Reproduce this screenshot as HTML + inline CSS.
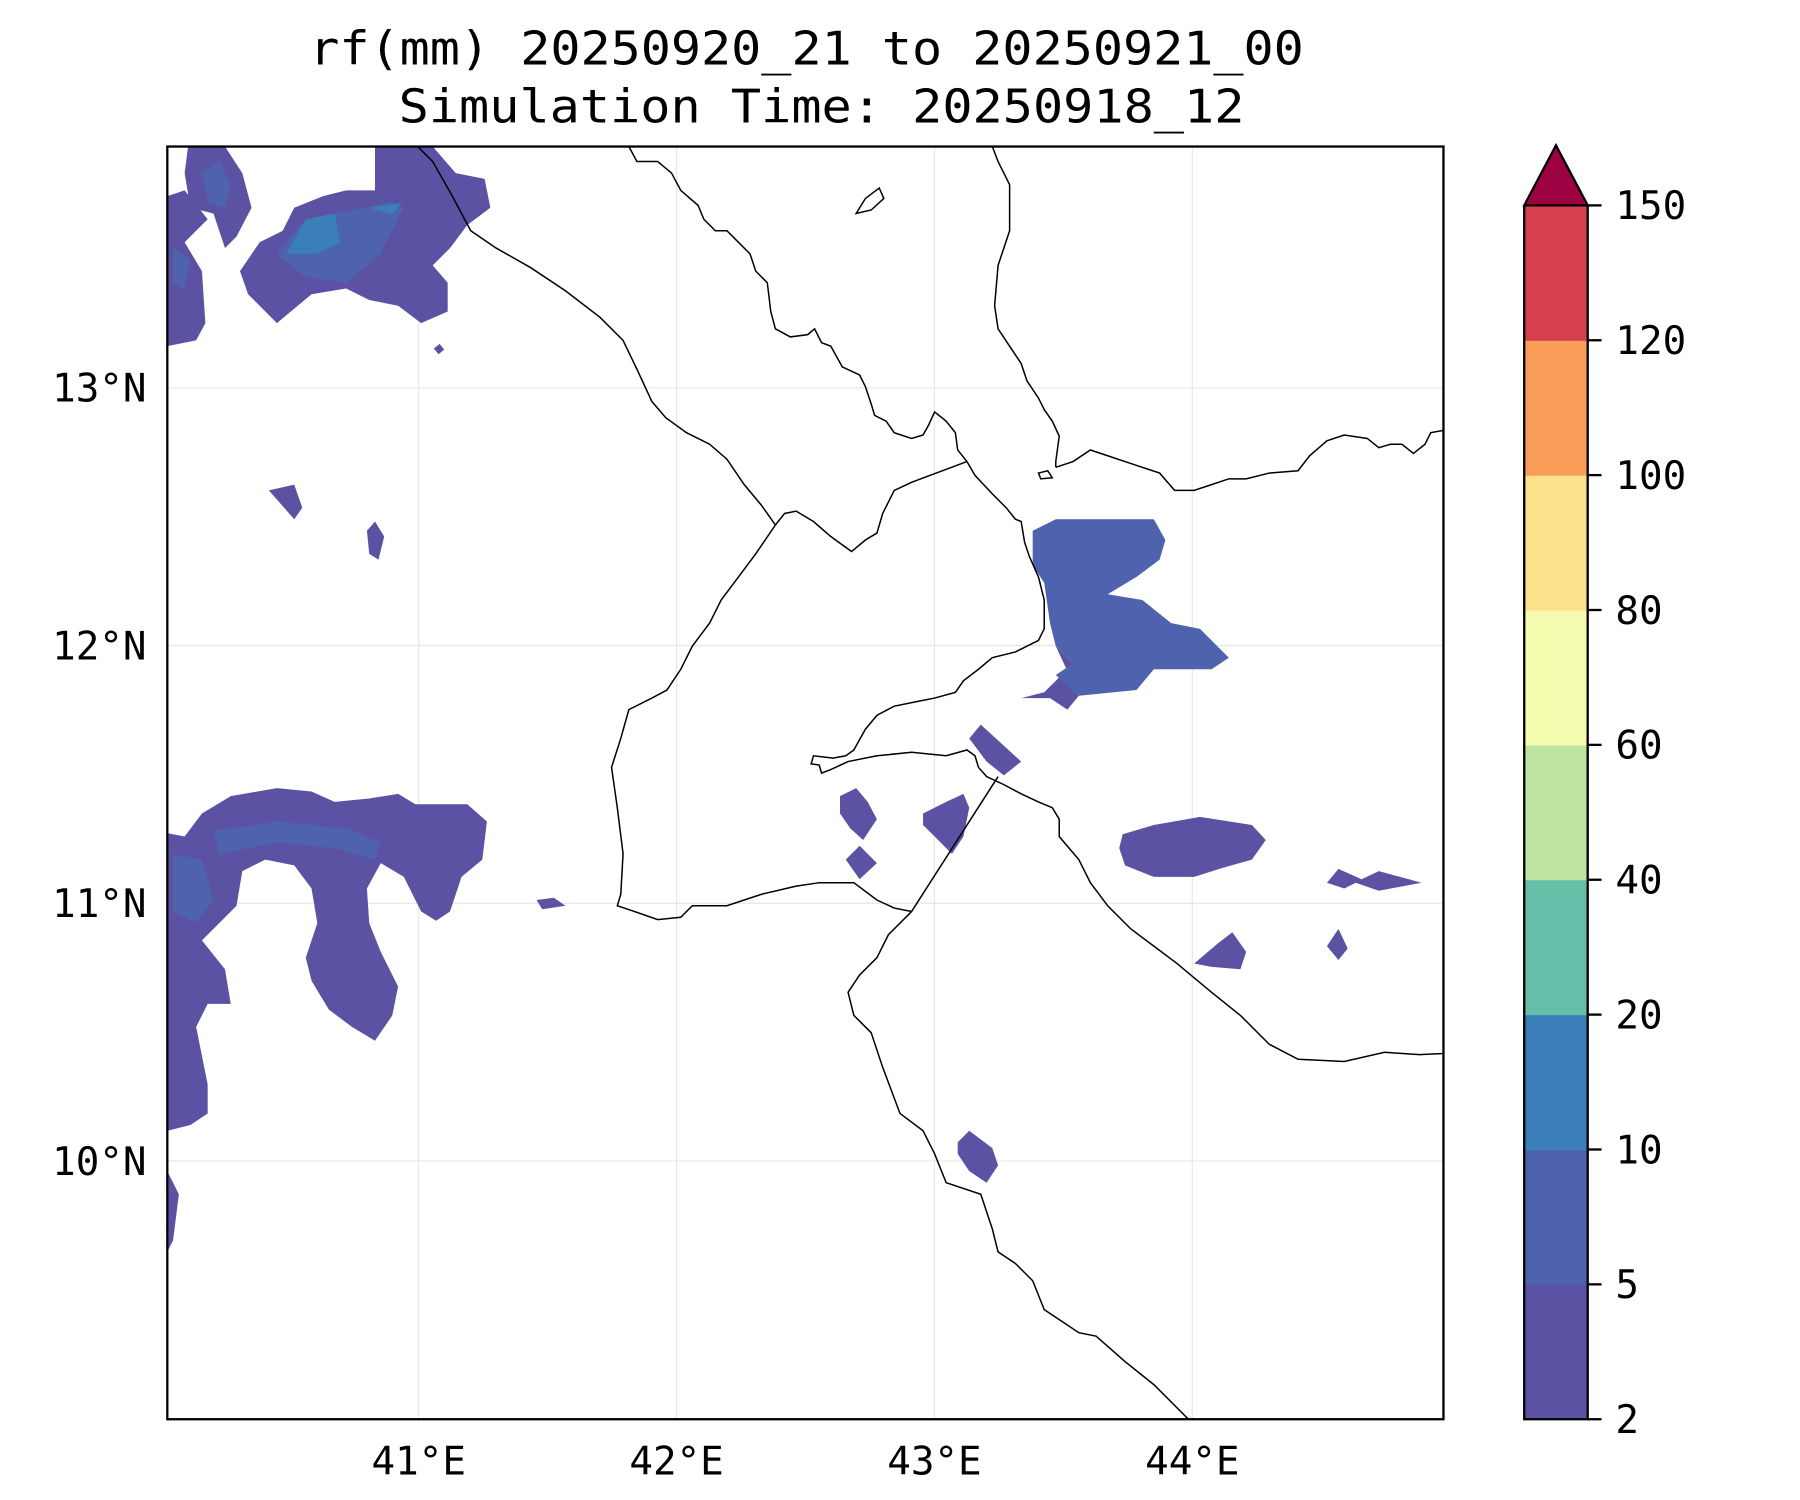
<!DOCTYPE html>
<html><head><meta charset="utf-8"><style>
html,body{margin:0;padding:0;background:#fff}
svg{display:block}
text{font-family:"DejaVu Sans Mono","Liberation Mono",monospace;fill:#000}
</style></head><body>
<svg id="chart" width="1800" height="1500" viewBox="0 0 1560 1300" xmlns="http://www.w3.org/2000/svg">
<text x="699" y="56" font-size="40" text-anchor="middle" textLength="862" lengthAdjust="spacingAndGlyphs">rf(mm) 20250920_21 to 20250921_00</text>
<text x="712" y="106" font-size="40" text-anchor="middle" textLength="733" lengthAdjust="spacingAndGlyphs">Simulation Time: 20250918_12</text>
<defs><clipPath id="pc"><rect x="145" y="127" width="1106" height="1103"/></clipPath></defs>
<g id="grid"></g>
<g clip-path="url(#pc)">
<g fill="#5c52a3">
<polygon points="145,170 160,165 180,190 160,210 175,235 178,280 170,295 145,300"/>
<polygon points="163,127 195,127 210,150 218,180 205,205 195,215 185,185 165,180 160,150"/>
<polygon points="325,127 375,127 395,150 420,155 425,180 405,195 390,215 375,230 388,245 388,270 365,280 345,265 320,260 300,250 270,255 240,280 215,255 208,235 225,210 245,200 255,180 280,170 300,165 325,165"/>
<polygon points="376,302 381,298 385,303 380,307"/>
<polygon points="233,425 255,420 262,440 255,450"/>
<polygon points="318,460 325,452 333,465 328,485 320,480"/>
<polygon points="145,722 160,725 175,705 200,690 240,683 270,686 290,695 320,692 345,688 360,697 405,697 422,712 418,745 400,760 390,790 378,798 365,790 350,760 330,748 318,770 320,800 330,825 345,855 340,880 325,902 305,890 285,875 270,850 265,830 275,800 270,770 255,750 230,745 210,755 205,785 190,800 175,815 195,840 200,870 180,870 170,890 180,940 180,965 165,975 145,980"/>
<polygon points="145,1015 155,1035 150,1075 145,1085"/>
<polygon points="465,780 480,778 490,785 470,788"/>
<polygon points="885,605 905,600 930,575 915,560 935,603 925,615 910,605"/>
<polygon points="840,640 850,628 885,660 870,672 855,660"/>
<polygon points="728,690 742,683 752,695 760,710 748,728 737,718 728,705"/>
<polygon points="733,745 745,733 760,748 745,762"/>
<polygon points="800,705 820,695 835,688 840,700 835,725 825,740 815,730 800,715"/>
<polygon points="973,723 1000,715 1040,708 1085,715 1097,728 1085,745 1060,752 1035,760 1000,760 975,750 970,735"/>
<polygon points="1150,765 1160,753 1180,762 1195,755 1232,765 1195,772 1175,765 1165,770"/>
<polygon points="1035,835 1055,818 1068,808 1080,825 1075,840 1050,838"/>
<polygon points="1150,820 1160,805 1168,822 1160,832"/>
<polygon points="830,990 840,980 860,995 865,1010 855,1025 840,1015 830,1000"/>
</g>
<g fill="#4e62ad">
<polygon points="895,460 915,450 1000,450 1010,468 1005,485 985,500 960,515 990,520 1015,540 1040,545 1065,570 1050,580 1000,580 985,598 935,603 915,585 930,575 915,560 910,540 905,505 895,490"/>
<polygon points="240,220 260,195 290,185 340,175 350,180 330,220 300,245 265,240"/>
<polygon points="175,150 190,140 200,160 195,180 180,175"/>
<polygon points="185,720 240,712 300,718 330,730 325,745 290,735 240,730 190,740"/>
<polygon points="150,740 175,745 185,780 170,800 150,790"/>
<polygon points="150,215 165,225 160,250 150,245"/>
</g>
<g fill="#3a7fb8">
<polygon points="248,220 265,190 290,185 295,210 275,220"/>
<polygon points="320,180 348,176 340,186"/>
</g>
</g>
<g fill="none" stroke="#000" stroke-width="1.3" clip-path="url(#pc)">
<polyline points="362,127 375,140 392,170 408,200 430,215 460,232 490,252 520,275 540,295 552,320 565,348 577,362 595,375 615,385 630,398 645,420 660,438 672,455"/>
<polyline points="672,455 680,445 690,443 705,452 720,465 738,478 750,468 760,462 765,445 770,435 775,425 790,418 838,400"/>
<polyline points="545,127 552,140 570,140 582,150 590,165 605,178 610,190 620,200 630,200 640,210 650,220 655,235 665,245 668,270 672,285 685,292 700,290 706,285 712,297 720,300 730,318 745,325 750,335 755,350 758,360 768,365 775,375 790,380 800,377 805,368 810,357 820,365 828,375 830,390 838,400 845,412 860,428 872,440 880,450 885,452 888,470 892,482 900,500 905,520 905,545 900,555 880,565 860,570 848,580 835,590 828,600 810,605 795,608 775,612 760,620 750,632 740,650 733,655 722,657 705,655 703,662 710,663 712,670 720,667 735,660 760,655 790,652 820,655 838,650 845,655 848,665 855,673 870,680 885,688 900,695 912,700 918,710 918,725 935,745 945,765 960,785 980,805 1000,820 1020,835 1050,860 1075,880 1100,905 1125,918 1165,920 1200,912 1230,914 1251,913"/>
<polyline points="865,673 790,790"/>
<polyline points="790,790 770,810 760,830 745,845 735,860 740,880 755,895 765,925 780,965 800,980 810,1000 820,1025 850,1035 860,1065 865,1085 880,1095 895,1110 905,1135 920,1145 935,1155 950,1158 975,1180 1000,1200 1030,1230"/>
<polyline points="672,455 655,480 640,500 625,520 615,540 600,560 590,580 578,598 565,605 545,615 538,640 530,665 535,700 540,740 538,775 535,785 550,790 570,797 590,795 600,785 630,785 660,775 690,768 710,765 740,765 760,780 775,787 790,790"/>
<polyline points="915,405 930,400 945,390 960,395 975,400 990,405 1005,410 1018,425 1035,425 1050,420 1065,415 1080,415 1100,410 1125,408 1135,395 1150,382 1165,377 1185,380 1195,388 1205,385 1215,385 1225,393 1235,385 1240,375 1251,373"/>
<polyline points="860,127 865,140 875,160 875,200 870,215 865,230 862,265 865,285 875,300 885,315 890,330 900,345 905,355 912,365 918,378 915,400 915,405"/>
<polygon points="742,185 750,172 762,163 766,172 755,182"/>
<polygon points="900,410 908,408 912,414 902,415"/>
</g>
<rect x="145" y="127" width="1106" height="1103" fill="none" stroke="#000" stroke-width="2"/>
<g id="axes"></g>
<g id="cbar"></g>
</svg>
<script>
const lonTicks=[41,42,43,44];
const latTicks=[13,12,11,10];
const cbLevels=[2,5,10,20,40,60,80,100,120,150];
const cbColors=["#5c52a3","#4e62ad","#3a7fb8","#65bfa8","#bde49f","#f4faae","#fce08b","#f99d59","#d6404e"];
const extendColor="#9e0142";
const NS="http://www.w3.org/2000/svg";
const X0=145,X1=1251,Y0=127,Y1=1230,LON0=40.025,LON1=44.974,LAT0=8.998,LAT1=13.936;
function xs(lon){return X0+(lon-LON0)/(LON1-LON0)*(X1-X0);}
function ys(lat){return Y1-(lat-LAT0)/(LAT1-LAT0)*(Y1-Y0);}
function mk(t,a,p){const e=document.createElementNS(NS,t);for(const k in a)e.setAttribute(k,a[k]);p.appendChild(e);return e;}
const grid=document.getElementById('grid'),axes=document.getElementById('axes'),cb=document.getElementById('cbar');
lonTicks.forEach(v=>{const x=xs(v);
 const l=mk('line',{x1:x,x2:x,y1:Y0,y2:Y1,stroke:'#e6e6e6','stroke-width':1},grid);
 
 
 const t=mk('text',{x:x,y:1278,'font-size':34,'text-anchor':'middle'},axes);t.textContent=v+'°E';
 
 });
latTicks.forEach(v=>{const y=ys(v);
 const l=mk('line',{x1:X0,x2:X1,y1:y,y2:y,stroke:'#e6e6e6','stroke-width':1},grid);
 
 
 const t=mk('text',{x:127,y:y+12,'font-size':34,'text-anchor':'end'},axes);t.textContent=v+'°N';
 
 });
const CX0=1321,CX1=1376,CT=178,CB=1230,n=cbLevels.length-1,seg=(CB-CT)/n;
function cy(i){return CB-i*seg;}
cbColors.forEach((c,i)=>{const r=mk('rect',{x:CX0,y:cy(i+1),width:CX1-CX0,height:seg+0.5,fill:c},cb);
 
 });
const ar=mk('polygon',{points:`${CX0},${CT} ${(CX0+CX1)/2},${CT-52} ${CX1},${CT}`,fill:extendColor,stroke:'#000','stroke-width':2},cb);


const fr=mk('polyline',{points:`${CX0},${CT} ${CX0},${CB} ${CX1},${CB} ${CX1},${CT}`,fill:'none',stroke:'#000','stroke-width':2},cb);


cbLevels.forEach((v,i)=>{const y=cy(i);
 const tk=mk('line',{x1:CX1,x2:CX1+12,y1:y,y2:y,stroke:'#000','stroke-width':2},cb);
 
 
 const t=mk('text',{x:1400,y:y+12,'font-size':34},cb);t.textContent=v;
 
 });
</script>
</body></html>
